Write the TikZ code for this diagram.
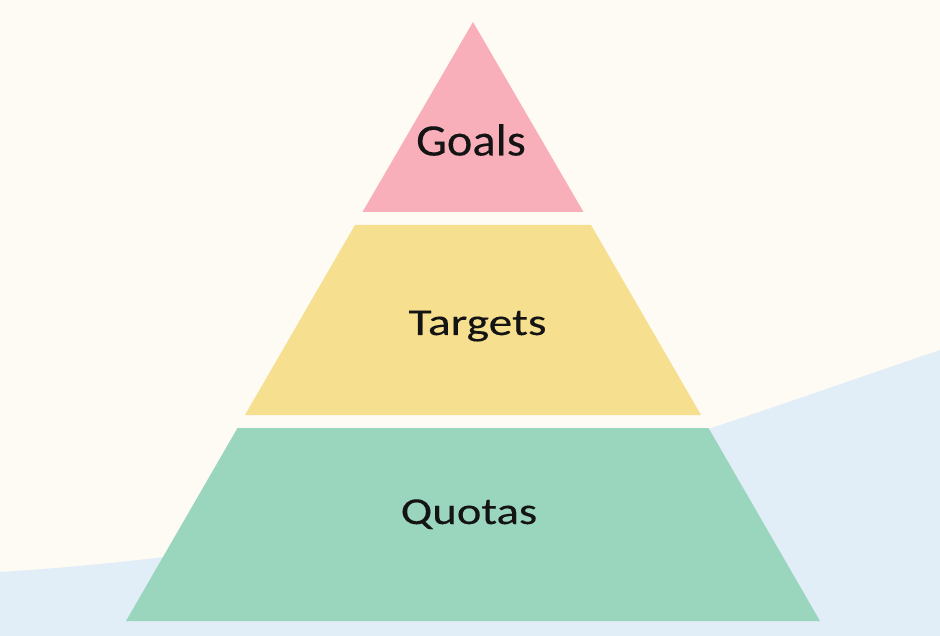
\documentclass[tikz,border=0pt]{standalone}
\usepackage{fontspec}
\setmainfont{Carlito}
\newfontface\levelface[FakeBold=0.2]{Carlito}
\usepackage{graphicx}
\usepackage{tikz}
\definecolor{cream}{HTML}{FEFAF4}
\definecolor{skyblue}{HTML}{E1EEF7}
\definecolor{pinklevel}{HTML}{F9AFBA}
\definecolor{yellowlevel}{HTML}{F6DF8E}
\definecolor{greenlevel}{HTML}{9AD5BE}
\tikzset{
  level/.style={draw=none},
  levellabel/.style={anchor=base, inner sep=0pt, text=black!92}
}

\begin{document}
\begin{tikzpicture}[x=1pt,y=-1pt]
        \useasboundingbox (0,0) rectangle (940,636);
        \fill[cream] (0,0) rectangle (940,636);
        \fill[skyblue] (0,572) .. controls (400,547) and (640,452) .. (940,350) -- (940,636) -- (0,636) -- cycle; % Hullam

        \coordinate (A) at (473,22);
        \coordinate (B1) at (362.5,212);
        \coordinate (C1) at (583.5,212);
        \coordinate (B2) at (355,225);
        \coordinate (C2) at (591,225);
        \coordinate (D2) at (245,415);
        \coordinate (E2) at (701,415);
        \coordinate (B3) at (237.5,428);
        \coordinate (C3) at (708.5,428);
        \coordinate (D3) at (126,621);
        \coordinate (E3) at (820,621);

        \fill[level,pinklevel] (A) -- (B1) -- (C1) -- cycle;             % Felso
        \fill[level,yellowlevel] (B2) -- (C2) -- (E2) -- (D2) -- cycle;  % Kozepso
        \fill[level,greenlevel] (B3) -- (C3) -- (E3) -- (D3) -- cycle;   % Also

        \node[levellabel, font=\levelface\fontsize{45}{54}\selectfont] (goals) at (471,155.5) {\scalebox{1.08}[1]{Goals}};
        \node[levellabel, font=\levelface\fontsize{38}{46}\selectfont] (targets) at (477.5,335) {\scalebox{1.25}[1]{Targets}};
        \node[levellabel, font=\levelface\fontsize{38}{46}\selectfont] (quotas) at (469,524) {\scalebox{1.23}[1]{Quotas}};

    \end{tikzpicture}
\end{document}
